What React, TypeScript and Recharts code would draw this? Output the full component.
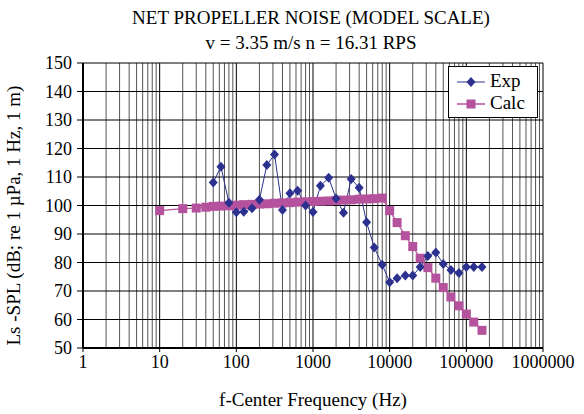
import { LineChart, Line, XAxis, YAxis, CartesianGrid } from 'recharts'

const expFreq = [50, 63, 80, 100, 125, 160, 200, 250, 315, 400, 500, 630, 800, 1000, 1250, 1600, 2000, 2500, 3150, 4000, 5000, 6300, 8000, 10000, 12500, 16000, 20000, 25000, 31500, 40000, 50000, 63000, 80000, 100000, 125000, 160000]
const expLevel = [108.1, 113.6, 101, 97.6, 97.8, 99, 102, 114.2, 117.9, 98.4, 104.3, 105.2, 100, 97.7, 106.9, 109.7, 102.5, 97.5, 109.3, 106.2, 94.1, 85.3, 79.2, 73.1, 74.5, 75.4, 75.4, 78.4, 82.3, 83.5, 79.5, 77.4, 76.3, 78.4, 78.4, 78.4]

const calcFreq = [10, 20, 30, 40, 50, 63, 80, 100, 125, 160, 200, 250, 315, 400, 500, 630, 800, 1000, 1250, 1600, 2000, 2500, 3150, 4000, 5000, 6300, 8000, 10000, 12500, 16000, 20000, 25000, 31500, 40000, 50000, 63000, 80000, 100000, 125000, 160000]
const calcLevel = [98.2, 98.9, 99.1, 99.4, 99.7, 99.8, 99.9, 100.1, 100.3, 100.4, 100.5, 100.6, 100.8, 100.9, 101, 101.2, 101.3, 101.4, 101.5, 101.6, 101.8, 101.9, 102, 102.2, 102.3, 102.4, 102.6, 98.2, 94, 89.4, 85.6, 81.5, 78.2, 74.5, 71.2, 67.9, 64.8, 61.9, 59.1, 56.2]

const decadeTicks = [1, 10, 100, 1000, 10000, 100000, 1000000]
const yTicks = [50, 60, 70, 80, 90, 100, 110, 120, 130, 140, 150]

const minorLines: number[] = []
for (let d = 1; d < 1000000; d *= 10) {
  for (let k = 2; k <= 9; k++) minorLines.push(d * k)
}

const expData = expFreq.map((f, i) => ({ f, v: expLevel[i] }))
const calcData = calcFreq.map((f, i) => ({ f, v: calcLevel[i] }))

const BLUE = '#2c3190'
const PINK = '#b4529d'
const FONT = '"Liberation Serif", "Times New Roman", serif'

const Diamond = (props: any) => {
  const { cx, cy } = props
  if (cx == null || cy == null) return null
  return <path d={`M${cx},${cy - 5}L${cx + 4.5},${cy}L${cx},${cy + 5}L${cx - 4.5},${cy}Z`} fill={BLUE} />
}

const Square = (props: any) => {
  const { cx, cy } = props
  if (cx == null || cy == null) return null
  return <rect x={cx - 4.5} y={cy - 4.5} width={9} height={9} fill={PINK} />
}

const LegendBox = () => (
  <div
    style={{
      position: 'absolute',
      left: 448,
      top: 66,
      width: 90,
      height: 52,
      border: '1px solid #000',
      background: '#fff',
      fontFamily: FONT,
      fontSize: 19,
      boxSizing: 'border-box',
    }}
  >
    <svg width={40} height={50} style={{ position: 'absolute', left: 2, top: 0 }}>
      <line x1={6} x2={34} y1={15} y2={15} stroke={BLUE} strokeWidth={1} />
      <path d="M20,10L24.5,15L20,20L15.5,15Z" fill={BLUE} />
      <line x1={6} x2={34} y1={37} y2={37} stroke={PINK} strokeWidth={1.5} />
      <rect x={15.5} y={32.5} width={9} height={9} fill={PINK} />
    </svg>
    <div style={{ position: 'absolute', left: 41, top: 3 }}>Exp</div>
    <div style={{ position: 'absolute', left: 41, top: 25 }}>Calc</div>
  </div>
)

export default function App() {
  return (
    <div
      style={{
        position: 'absolute',
        left: 0,
        top: 0,
        width: 584,
        height: 414,
        background: '#fff',
        fontFamily: FONT,
      }}
    >
      <style>{`.recharts-wrapper text { font-family: ${FONT}; }`}</style>
      <div
        style={{
          position: 'absolute',
          left: 111,
          width: 400,
          top: 5,
          textAlign: 'center',
          fontFamily: FONT,
          fontSize: 19,
          lineHeight: '25px',
          color: '#000',
        }}
      >
        NET PROPELLER NOISE (MODEL SCALE)
        <br />
        v = 3.35 m/s n = 16.31 RPS
      </div>
      <LineChart
        width={584}
        height={414}
        margin={{ top: 63, right: 41, bottom: 36, left: 43 }}
        style={{ fontFamily: FONT }}
      >
        <CartesianGrid stroke="#555" horizontal={false} verticalValues={minorLines} />
        <CartesianGrid stroke="#000" verticalValues={decadeTicks} horizontalValues={yTicks} />
        <XAxis
          type="number"
          dataKey="f"
          scale="log"
          domain={[1, 1000000]}
          ticks={decadeTicks}
          interval={0}
          allowDataOverflow
          height={30}
          tickSize={4}
          tickMargin={3}
          tick={{ fill: '#000', fontSize: 18, fontFamily: FONT }}
          axisLine={{ stroke: '#000', strokeWidth: 2 }}
          tickLine={{ stroke: '#000' }}
          label={{
            value: 'f-Center Frequency (Hz)',
            position: 'insideBottom',
            offset: -28,
            fill: '#000',
            fontSize: 19,
            style: { fontFamily: FONT },
          }}
        />
        <YAxis
          type="number"
          domain={[50, 150]}
          ticks={yTicks}
          interval={0}
          width={40}
          tickSize={6}
          tickMargin={5}
          tick={{ fill: '#000', fontSize: 18, fontFamily: FONT }}
          axisLine={{ stroke: '#000', strokeWidth: 2 }}
          tickLine={{ stroke: '#000' }}
          label={{
            value: 'Ls -SPL (dB; re 1 µPa, 1 Hz, 1 m)',
            angle: -90,
            position: 'insideLeft',
            offset: -30,
            dy: 140,
            fill: '#000',
            fontSize: 19,
            style: { fontFamily: FONT },
          }}
        />
        <Line
          data={calcData}
          dataKey="v"
          name="Calc"
          stroke={PINK}
          strokeWidth={1.2}
          dot={<Square />}
          isAnimationActive={false}
        />
        <Line
          data={expData}
          dataKey="v"
          name="Exp"
          stroke={BLUE}
          strokeWidth={1}
          dot={<Diamond />}
          isAnimationActive={false}
        />
      </LineChart>
      <LegendBox />
    </div>
  )
}
